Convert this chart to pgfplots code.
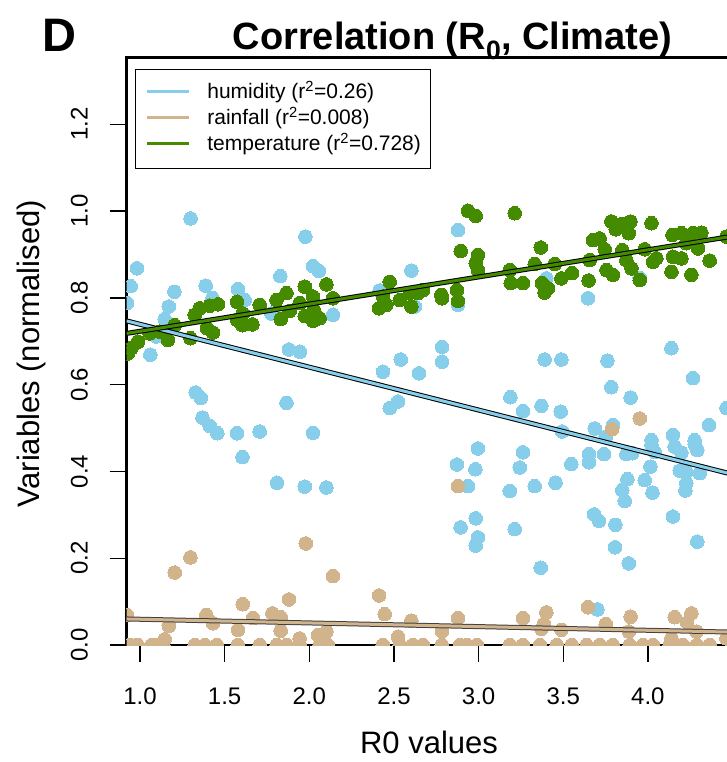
\documentclass[border=0pt]{standalone}
\usepackage{pgfplots}
\pgfplotsset{compat=1.18}
\usepackage{fontspec}
\setmainfont{Liberation Sans}
\definecolor{hum}{HTML}{87CEEB}
\definecolor{rain}{HTML}{D2B48C}
\definecolor{temp}{HTML}{458B00}

\pgfplotstableread{
x y
1.299 0.983
1.977 0.941
0.982 0.868
2.022 0.873
2.057 0.862
2.603 0.863
0.945 0.827
1.388 0.828
1.829 0.850
1.203 0.814
1.579 0.820
0.923 0.788
1.428 0.800
1.170 0.780
1.618 0.795
2.416 0.817
1.146 0.751
1.776 0.764
2.140 0.761
1.097 0.711
1.061 0.669
1.880 0.681
1.945 0.676
2.435 0.630
2.540 0.658
2.648 0.626
1.329 0.582
1.359 0.569
1.865 0.558
2.475 0.546
2.524 0.561
1.369 0.524
1.412 0.505
1.457 0.488
1.573 0.488
1.707 0.492
2.022 0.489
1.605 0.433
1.809 0.374
1.973 0.365
2.101 0.363
2.878 0.956
3.400 0.845
3.952 0.846
3.646 0.799
2.878 0.784
2.623 0.780
2.784 0.687
2.784 0.653
3.390 0.658
3.489 0.658
3.761 0.655
4.139 0.684
3.784 0.594
3.898 0.570
4.266 0.615
4.464 0.546
3.188 0.571
3.262 0.539
3.371 0.551
3.485 0.538
3.493 0.492
3.686 0.499
3.794 0.507
3.751 0.480
4.148 0.484
4.276 0.472
4.361 0.507
4.021 0.472
2.996 0.453
2.872 0.416
2.981 0.405
2.937 0.366
3.262 0.444
3.243 0.409
3.184 0.355
3.331 0.366
3.454 0.374
3.548 0.417
3.652 0.440
3.652 0.421
3.741 0.440
3.873 0.440
3.908 0.442
4.021 0.461
4.040 0.445
4.015 0.411
4.158 0.457
4.198 0.443
4.276 0.463
4.292 0.449
4.188 0.402
4.227 0.399
4.306 0.396
4.227 0.373
4.221 0.356
3.879 0.382
3.849 0.357
3.863 0.332
3.981 0.380
4.027 0.351
3.682 0.301
3.711 0.286
3.808 0.277
4.148 0.296
4.292 0.238
3.806 0.225
3.887 0.188
2.983 0.292
2.894 0.271
2.996 0.248
2.983 0.229
3.213 0.267
3.367 0.178
3.702 0.082
}\humidity

\pgfplotstableread{
x y
1.298 0.202
1.205 0.167
1.979 0.234
2.140 0.159
2.878 0.366
3.952 0.522
3.788 0.497
3.646 0.087
1.607 0.094
1.880 0.105
2.412 0.114
2.445 0.071
0.923 0.069
1.392 0.069
1.431 0.050
1.170 0.044
1.579 0.035
1.667 0.062
1.782 0.073
1.831 0.064
1.831 0.033
2.101 0.031
2.051 0.023
1.943 0.015
2.524 0.019
2.603 0.056
1.146 0.013
2.878 0.062
2.784 0.032
3.262 0.062
3.400 0.075
3.385 0.048
3.371 0.037
3.489 0.035
3.751 0.048
3.898 0.065
3.887 0.031
4.158 0.064
4.257 0.073
4.231 0.052
4.287 0.031
4.139 0.015
4.464 0.015
0.939 0
0.986 0
1.069 0
1.105 0
1.323 0
1.382 0
1.453 0
1.577 0
1.707 0
1.807 0
1.866 0
1.943 0
2.061 0
2.109 0
2.434 0
2.534 0
2.611 0
2.670 0
2.782 0
2.889 0
2.930 0
2.989 0
3.184 0
3.261 0
3.362 0
3.461 0
3.550 0
3.638 0
3.715 0
3.792 0
3.893 0
3.970 0
4.029 0
4.129 0
4.206 0
4.288 0
4.365 0
}\rainfall

\pgfplotstableread{
x y
2.101 0.831
1.973 0.826
1.865 0.811
1.806 0.795
2.022 0.803
2.140 0.799
1.943 0.788
1.573 0.791
1.461 0.785
1.412 0.782
1.353 0.776
1.323 0.761
1.608 0.764
1.575 0.749
1.605 0.737
1.664 0.739
1.707 0.784
1.884 0.770
1.831 0.751
1.973 0.758
2.022 0.747
2.061 0.753
2.026 0.772
1.396 0.730
1.431 0.720
1.298 0.707
1.205 0.737
1.165 0.703
1.116 0.722
1.057 0.718
0.988 0.699
0.949 0.684
0.929 0.672
2.475 0.837
2.435 0.803
2.412 0.776
2.455 0.784
2.534 0.795
2.603 0.780
2.593 0.811
2.642 0.811
2.937 1.001
2.983 0.989
3.213 0.995
2.894 0.908
2.996 0.899
2.983 0.880
2.996 0.864
3.184 0.864
3.190 0.834
3.262 0.834
3.331 0.878
3.367 0.916
3.375 0.834
3.390 0.812
3.410 0.822
3.450 0.878
3.489 0.845
3.552 0.857
3.650 0.840
3.656 0.887
3.676 0.933
3.715 0.937
3.745 0.912
3.755 0.864
3.794 0.853
3.784 0.976
3.810 0.958
3.849 0.970
3.897 0.976
3.887 0.949
3.849 0.910
3.873 0.887
3.903 0.868
3.952 0.841
3.981 0.912
4.021 0.972
4.030 0.883
4.050 0.891
4.145 0.945
4.198 0.949
4.227 0.926
4.266 0.949
4.316 0.950
4.296 0.914
4.148 0.895
4.198 0.891
4.139 0.860
4.257 0.853
4.365 0.886
4.464 0.941
2.672 0.818
2.780 0.807
2.784 0.799
2.872 0.818
2.878 0.793
}\temperature

\begin{document}
\begin{tikzpicture}
\begin{axis}[
  at={(0pt,0pt)}, anchor=south west,
  scale only axis, width=605.3pt, height=587.5pt,
  xmin=0.9214, xmax=4.4968, ymin=0, ymax=1.354,
  xtick={1,1.5,2,2.5,3,3.5,4},
  xticklabels={1.0,1.5,2.0,2.5,3.0,3.5,4.0},
  ytick={0,0.2,0.4,0.6,0.8,1.0,1.2},
  yticklabels={0.0,0.2,0.4,0.6,0.8,1.0,1.2},
  xtick pos=bottom, ytick pos=left, tick align=outside,
  major tick length=17pt,
  every tick/.append style={black, line width=1.4pt},
  axis line style={line width=2.6pt},
  ticklabel style={font=\fontsize{24}{28}\selectfont},
  xticklabel style={anchor=base},
  yticklabel style={rotate=90, anchor=base},
  xticklabel shift=42pt, yticklabel shift=22pt,
  clip marker paths=true,
  legend style={at={(axis description cs:0.0137,0.9804)}, anchor=north west,
    draw=black, line width=0.9pt, fill=white, inner xsep=10pt, inner ysep=13.5pt,
    font=\fontsize{21}{25}\selectfont, row sep=6pt,
    nodes={inner sep=0pt, text height=16pt, text depth=4pt, anchor=base west}},
  legend cell align=left,
  legend image code/.code={\draw[#1, line width=3pt] (0pt,7pt) -- (42pt,7pt); \path (60pt,0pt);},
]
\addlegendimage{hum}
\addlegendentry{humidity (r\textsuperscript{2}=0.26)}
\addlegendimage{rain}
\addlegendentry{rainfall (r\textsuperscript{2}=0.008)}
\addlegendimage{temp}
\addlegendentry{temperature (r\textsuperscript{2}=0.728)}

\addplot[forget plot, only marks, mark=*, mark size=6.8pt, mark options={draw=hum, fill=hum, line width=0pt}] table[x=x, y=y] {\humidity};
\addplot[forget plot, only marks, mark=*, mark size=6.8pt, mark options={draw=rain, fill=rain, line width=0pt}] table[x=x, y=y] {\rainfall};
\addplot[forget plot, only marks, mark=*, mark size=6.8pt, mark options={draw=temp, fill=temp, line width=0pt}] table[x=x, y=y] {\temperature};

\addplot[forget plot, black, line width=5pt] coordinates {(0.9214,0.7469) (4.4968,0.3936)};
\addplot[forget plot, hum, line width=3pt] coordinates {(0.9214,0.7469) (4.4968,0.3936)};
\addplot[forget plot, black!75, line width=5pt] coordinates {(0.9214,0.0600) (4.4968,0.0297)};
\addplot[forget plot, rain, line width=3pt] coordinates {(0.9214,0.0600) (4.4968,0.0297)};
\addplot[forget plot, black, line width=5pt] coordinates {(0.9214,0.7181) (4.4968,0.9419)};
\addplot[forget plot, temp, line width=3pt] coordinates {(0.9214,0.7181) (4.4968,0.9419)};
\end{axis}
\node[anchor=base, font=\bfseries\fontsize{38}{44}\selectfont] at (325.8pt,595pt) {Correlation (R\textsubscript{0}, Climate)};
\node[anchor=base, font=\bfseries\fontsize{47}{54}\selectfont] at (-67.5pt,593.3pt) {D};
\node[anchor=base, font=\fontsize{31}{36}\selectfont] at (302.3pt,-108.3pt) {R0 values};
\node[rotate=90, anchor=base, font=\fontsize{31}{36}\selectfont] at (-86.7pt,291pt) {Variables (normalised)};
\pgfresetboundingbox
\path[use as bounding box] (-126.7pt,-117pt) rectangle (600.3pt,645pt);
\end{tikzpicture}
\end{document}
